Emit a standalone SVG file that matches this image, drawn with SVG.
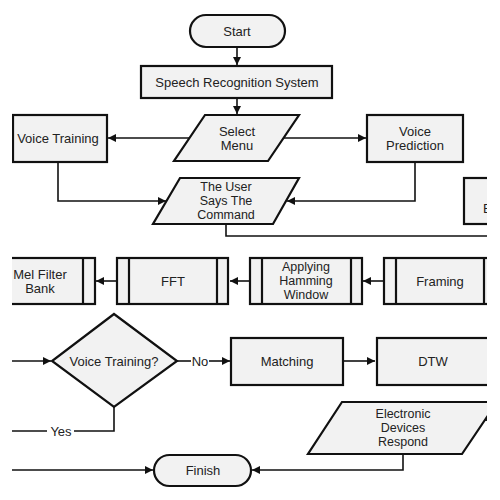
<svg xmlns="http://www.w3.org/2000/svg" width="500" height="500" viewBox="0 0 500 500">
<defs>
<style>
.s{fill:#f2f2f2;stroke:#111;stroke-width:2.2}
.l{fill:none;stroke:#111;stroke-width:1.6}
.t{font-family:"Liberation Sans",Arial,sans-serif;font-size:13px;fill:#222;text-anchor:middle;dominant-baseline:central}
.m{font-size:12.5px}
</style>
<marker id="a" viewBox="0 0 10 10" refX="10" refY="5" markerWidth="8" markerHeight="8" markerUnits="userSpaceOnUse" orient="auto">
<path d="M0,0L10,5L0,10z" fill="#111"/>
</marker>
<clipPath id="c"><rect x="12" y="0" width="475" height="500"/></clipPath>
</defs>
<rect width="500" height="500" fill="#fff"/>
<g clip-path="url(#c)">
<g id="connectors">
<path class="l" d="M237,47V65" marker-end="url(#a)"/>
<path class="l" d="M237,98V114" marker-end="url(#a)"/>
<path class="l" d="M190,138H108" marker-end="url(#a)"/>
<path class="l" d="M284,138H366" marker-end="url(#a)"/>
<path class="l" d="M58,162V201H166" marker-end="url(#a)"/>
<path class="l" d="M415,162V201H287" marker-end="url(#a)"/>
<path class="l" d="M226,224V236H500"/>
<path class="l" d="M249,281H230" marker-end="url(#a)"/>
<path class="l" d="M116,281H96" marker-end="url(#a)"/>
<path class="l" d="M383,281H363" marker-end="url(#a)"/>
<path class="l" d="M0,361H51" marker-end="url(#a)"/>
<path class="l" d="M177,361H191"/>
<path class="l" d="M209,361H230" marker-end="url(#a)"/>
<path class="l" d="M343,361H375" marker-end="url(#a)"/>
<path class="l" d="M114,407V431H74"/>
<path class="l" d="M47,431H0"/>
<path class="l" d="M500,420H485" marker-end="url(#a)"/>
<path class="l" d="M403,454V470H252" marker-end="url(#a)"/>
<path class="l" d="M0,470H153" marker-end="url(#a)"/>
<text class="t" x="200" y="361">No</text>
<text class="t" x="61" y="431">Yes</text>
</g>
<g id="start"><rect class="s" x="190" y="15" width="95" height="32" rx="16"/><text class="t" x="237" y="31">Start</text></g>
<g id="srs"><rect class="s" x="141" y="66" width="191" height="32"/><text class="t" x="237" y="82">Speech Recognition System</text></g>
<g id="select"><path class="s" d="M205,115H299L268,161H174z"/><text class="t" x="237" y="131">Select</text><text class="t" x="237" y="145">Menu</text></g>
<g id="voicetraining"><rect class="s" x="13" y="115" width="94" height="47"/><text class="t" x="58" y="138">Voice Training</text></g>
<g id="voiceprediction"><rect class="s" x="367" y="115" width="96" height="47"/><text class="t" x="415" y="131">Voice</text><text class="t" x="415" y="145">Prediction</text></g>
<g id="user"><path class="s" d="M180,178H299L273,224H153z"/><text class="t m" x="226" y="187">The User</text><text class="t m" x="226" y="201">Says The</text><text class="t m" x="226" y="215">Command</text></g>
<g id="partial"><rect class="s" x="464" y="178" width="60" height="46"/><text class="t" x="483" y="208" style="text-anchor:start">E</text></g>
<g id="mel"><rect class="s" x="-20" y="258" width="115" height="46"/><line class="l" x1="83" y1="258" x2="83" y2="304" style="stroke-width:2.2"/><text class="t" x="40" y="274">Mel Filter</text><text class="t" x="40" y="288">Bank</text></g>
<g id="fft"><rect class="s" x="117" y="258" width="111" height="46"/><line class="l" x1="129" y1="258" x2="129" y2="304" style="stroke-width:2.2"/><line class="l" x1="217" y1="258" x2="217" y2="304" style="stroke-width:2.2"/><text class="t" x="173" y="281">FFT</text></g>
<g id="hamming"><rect class="s" x="250" y="258" width="112" height="46"/><line class="l" x1="262" y1="258" x2="262" y2="304" style="stroke-width:2.2"/><line class="l" x1="351" y1="258" x2="351" y2="304" style="stroke-width:2.2"/><text class="t m" x="306" y="267">Applying</text><text class="t m" x="306" y="281">Hamming</text><text class="t m" x="306" y="295">Window</text></g>
<g id="framing"><rect class="s" x="384" y="258" width="112" height="46"/><line class="l" x1="396" y1="258" x2="396" y2="304" style="stroke-width:2.2"/><line class="l" x1="484" y1="258" x2="484" y2="304" style="stroke-width:2.2"/><text class="t" x="440" y="281">Framing</text></g>
<g id="decision"><path class="s" d="M114,314L177,361L114,407L52,361z"/><text class="t" x="114" y="361">Voice Training?</text></g>
<g id="matching"><rect class="s" x="231" y="338" width="112" height="47"/><text class="t" x="287" y="361">Matching</text></g>
<g id="dtw"><rect class="s" x="377" y="338" width="120" height="47"/><text class="t" x="433" y="361">DTW</text></g>
<g id="electronic"><path class="s" d="M342,402H497L462,454H308z"/><text class="t m" x="403" y="414">Electronic</text><text class="t m" x="403" y="428">Devices</text><text class="t m" x="403" y="442">Respond</text></g>
<g id="finish"><rect class="s" x="154" y="455" width="97" height="31" rx="15.5"/><text class="t" x="203" y="470">Finish</text></g>
</g>
</svg>
